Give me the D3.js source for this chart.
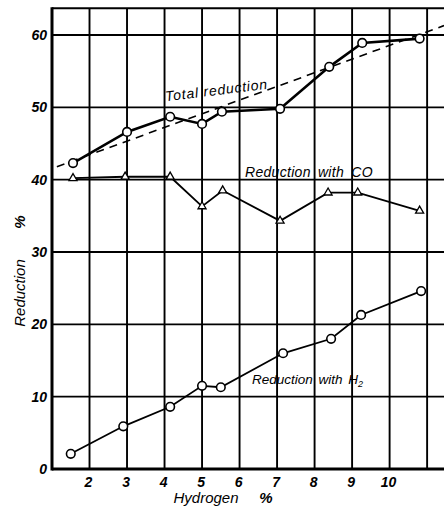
<!DOCTYPE html>
<html><head><meta charset="utf-8">
<script src="https://cdn.jsdelivr.net/npm/d3@7"></script>
<style>body{margin:0;background:#fff}text{font-family:"Liberation Sans","DejaVu Sans",sans-serif;font-style:italic}</style>
</head><body><svg id="c" width="444" height="507"></svg>
<script>
const xTicks = [2,3,4,5,6,7,8,9,10];
const xGrid = [2,3,4,5,6,7,8,9,10,11];
const yTicks = [0,10,20,30,40,50,60];
const totalX = [1.56,3.0,4.15,5.0,5.53,7.08,8.39,9.27,10.8];
const totalY = [42.3,46.6,48.7,47.7,49.4,49.8,55.6,58.9,59.5];
const coX = [1.56,2.95,4.15,5.0,5.55,7.08,8.36,9.15,10.8];
const coY = [40.2,40.4,40.4,36.3,38.5,34.3,38.2,38.2,35.7];
const h2X = [1.5,2.9,4.15,5.0,5.5,7.16,8.44,9.24,10.84];
const h2Y = [2.1,5.9,8.6,11.5,11.3,16.0,18.0,21.3,24.6];
const trendX = [1.13,11.45];
const trendY = [41.8,61.3];

const svg = d3.select("#c");
const x = d3.scaleLinear().domain([1,11.45]).range([52,444]);
const y = d3.scaleLinear().domain([0,60]).range([469,35]);
const yTop = 63.7;

// grid
svg.append("g").selectAll("line").data(xGrid).join("line")
  .attr("x1",d=>x(d)).attr("x2",d=>x(d)).attr("y1",y(0)).attr("y2",y(yTop))
  .attr("stroke","#000").attr("stroke-width",1.9);
svg.append("g").selectAll("line").data(yTicks.filter(d=>d>0)).join("line")
  .attr("x1",x(1)).attr("x2",444).attr("y1",d=>y(d)).attr("y2",d=>y(d))
  .attr("stroke","#000").attr("stroke-width",1.9);
// frame
svg.append("line").attr("x1",x(1)).attr("x2",444).attr("y1",y(yTop)).attr("y2",y(yTop)).attr("stroke","#000").attr("stroke-width",2);
svg.append("line").attr("x1",x(1)).attr("x2",444).attr("y1",y(0)).attr("y2",y(0)).attr("stroke","#000").attr("stroke-width",3);
svg.append("line").attr("x1",x(1)).attr("x2",x(1)).attr("y1",y(yTop)-1).attr("y2",y(0)+1.5).attr("stroke","#000").attr("stroke-width",3);

// tick labels
svg.append("g").selectAll("text").data(yTicks).join("text")
  .attr("x",47).attr("y",d=>y(d)+5).attr("text-anchor","end")
  .attr("font-size",14).attr("font-weight","bold").text(d=>d);
svg.append("g").selectAll("text").data(xTicks).join("text")
  .attr("x",d=>x(d)-1).attr("y",487).attr("text-anchor","middle")
  .attr("font-size",14).attr("font-weight","bold").text(d=>d);

// axis titles
svg.append("text").attr("x",206).attr("y",503).attr("text-anchor","middle").attr("font-size",15).text("Hydrogen");
svg.append("text").attr("x",266).attr("y",503).attr("text-anchor","middle").attr("font-size",15).attr("font-weight","bold").text("%");
svg.append("text").attr("transform","translate(25,293) rotate(-90)").attr("text-anchor","middle").attr("font-size",15).text("Reduction");
svg.append("text").attr("transform","translate(25,222) rotate(-90)").attr("text-anchor","middle").attr("font-size",15).attr("font-weight","bold").text("%");

// trend dashed
const line = d3.line().x(d=>x(d[0])).y(d=>y(d[1]));
svg.append("path").attr("d",line(d3.zip(trendX,trendY))).attr("fill","none")
  .attr("stroke","#000").attr("stroke-width",1.6).attr("stroke-dasharray","8,6");

function series(xs,ys,w,marker){
  const pts = d3.zip(xs,ys);
  svg.append("path").attr("d",line(pts)).attr("fill","none").attr("stroke","#000").attr("stroke-width",w);
  if(marker==="circle"){
    svg.append("g").selectAll("circle").data(pts).join("circle")
      .attr("cx",d=>x(d[0])).attr("cy",d=>y(d[1])).attr("r",4.3)
      .attr("fill","#fff").attr("stroke","#000").attr("stroke-width",1.6);
  } else {
    const sym = d3.symbol().type(d3.symbolTriangle).size(28);
    svg.append("g").selectAll("path").data(pts).join("path")
      .attr("transform",d=>`translate(${x(d[0])},${y(d[1])})`).attr("d",sym())
      .attr("fill","#fff").attr("stroke","#000").attr("stroke-width",1.3);
  }
}
series(totalX,totalY,2.6,"circle");
series(coX,coY,1.8,"tri");
series(h2X,h2Y,1.8,"circle");

// labels
svg.append("text").attr("transform","translate(217,95) rotate(-7)").attr("text-anchor","middle")
  .attr("font-size",14).attr("letter-spacing",0.8).text("Total reduction");
svg.append("text").attr("x",245).attr("y",177).attr("font-size",14).attr("letter-spacing",0.3).attr("word-spacing",3).text("Reduction with CO");
const h = svg.append("text").attr("x",252).attr("y",384).attr("font-size",13.5);
h.append("tspan").attr("word-spacing",2).text("Reduction with H");
h.append("tspan").attr("font-size",9).attr("dy",3).text("2");
</script></body></html>
